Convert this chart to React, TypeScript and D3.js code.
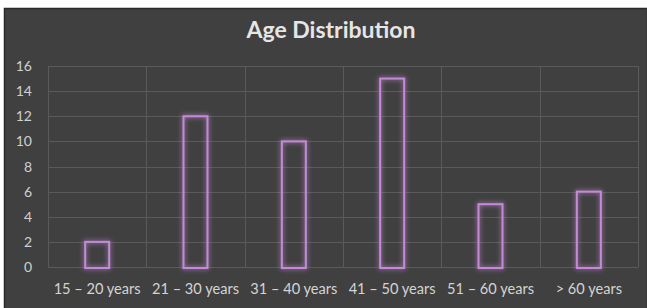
import React from "react";
import * as d3 from "d3";

const categories = ["15 – 20 years", "21 – 30 years", "31 – 40 years", "41 – 50 years", "51 – 60 years", "> 60 years"];
const values = [2, 12, 10, 15, 5, 6];
const yTicks = [0, 2, 4, 6, 8, 10, 12, 14, 16];

export default function App() {
  const W = 647, H = 308;
  const left = 48, right = 638, top = 66, bottom = 267;
  const x = d3.scaleBand<string>().domain(categories).range([left, right]).paddingInner(0).paddingOuter(0);
  const y = d3.scaleLinear().domain([0, 16]).range([bottom, top]);
  const barW = 24;
  const font = "Lato, 'Open Sans', sans-serif";
  return (
    <svg width={W} height={H} style={{ position: "absolute", left: 0, top: 0, display: "block" }}>
      <defs>
        <filter id="glow" x="-50%" y="-50%" width="200%" height="200%">
          <feGaussianBlur stdDeviation="2.6" result="b" />
          <feMerge>
            <feMergeNode in="b" />
            <feMergeNode in="SourceGraphic" />
          </feMerge>
        </filter>
      </defs>
      <rect x={0} y={0} width={W} height={H} fill="#ffffff" />
      <rect x={4.5} y={8.5} width={W - 4} height={H} fill="#404040" stroke="#2a2a2a" strokeWidth={1.5} />
      <text x={331} y={38} textAnchor="middle" fill="#e6e6e6" fontFamily={font} fontWeight="bold" fontSize={23}>
        Age Distribution
      </text>
      {yTicks.map((t) => (
        <g key={t}>
          <line x1={left} x2={right} y1={Math.round(y(t)) + 0.5} y2={Math.round(y(t)) + 0.5} stroke="#5a5a5a" strokeWidth={1} />
          <text x={32} y={y(t) + 5} textAnchor="end" fill="#d0d0d0" fontFamily={font} fontSize={14}>
            {t}
          </text>
        </g>
      ))}
      {categories.map((c, i) => (
        <line key={"v" + i} x1={Math.round(x(c)!) + 0.5} x2={Math.round(x(c)!) + 0.5} y1={top} y2={bottom} stroke="#5a5a5a" strokeWidth={1} />
      ))}
      <line x1={right + 0.5} x2={right + 0.5} y1={top} y2={bottom} stroke="#5a5a5a" strokeWidth={1} />
      {categories.map((c, i) => {
        const cx = x(c)! + x.bandwidth() / 2;
        return (
          <rect
            key={"b" + i}
            x={cx - barW / 2}
            y={y(values[i])}
            width={barW}
            height={y(0) - y(values[i]) + 1}
            fill="none"
            stroke="#c48ad8"
            strokeWidth={2}
            filter="url(#glow)"
          />
        );
      })}
      {categories.map((c, i) => (
        <text key={"l" + i} x={x(c)! + x.bandwidth() / 2} y={294} textAnchor="middle" fill="#d4d4d4" fontFamily={font} fontSize={14.6}>
          {c}
        </text>
      ))}
    </svg>
  );
}
